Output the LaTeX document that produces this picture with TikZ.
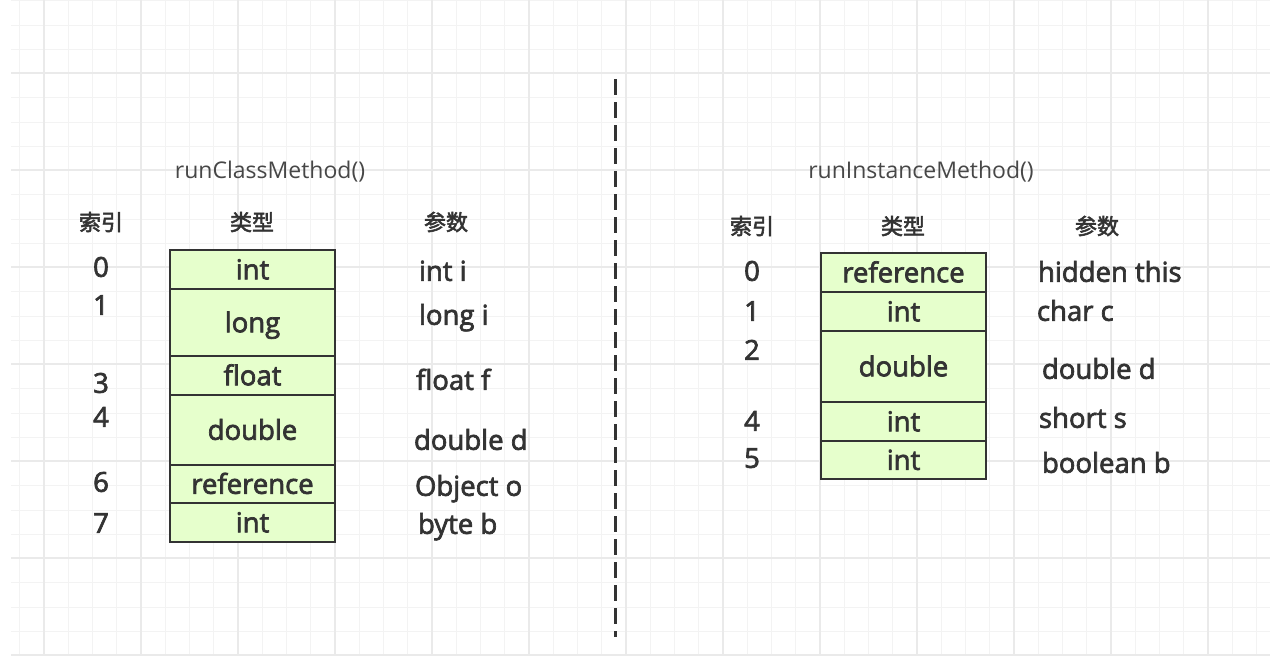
\documentclass[tikz,border=0pt]{standalone}
\usepackage{fontspec}
\setmainfont{Open Sans}
\newfontfamily\medium{Open Sans}[FakeBold=2.5]
\newfontfamily\cjk{Noto Sans CJK SC}[FakeBold=2.5]
\usetikzlibrary{positioning}
\definecolor{cellfill}{HTML}{E6FFCC}
\definecolor{ink}{HTML}{333333}
\definecolor{gridminor}{HTML}{F3F3F3}
\definecolor{gridmajor}{HTML}{EAEAEA}

\begin{document}
\begin{tikzpicture}[x=1pt,y=-1pt,
	every node/.style={text=ink,font=\medium\fontsize{27.5}{30}\selectfont,inner sep=0pt,outer sep=0pt},
	txt/.style={text height=19.6pt,text depth=0pt},
	param/.style={txt,anchor=west},
	head/.style={font=\cjk\fontsize{22}{26}\selectfont,text height=18.3pt,text depth=1.5pt},
	title/.style={font=\normalfont\fontsize{23}{26}\selectfont,text=ink!90,text height=16.5pt,text depth=0pt},
	slot/.style={draw=ink,fill=cellfill,line width=1.5pt,minimum width=165pt,txt},
	single/.style={slot,minimum height=39pt},
	double/.style={slot,minimum height=#1},
	minorline/.style={draw=gridminor,line width=1pt},
	majorline/.style={draw=gridmajor,line width=1.6pt},
	divider/.style={draw=ink,line width=3pt,dash pattern=on 16pt off 7pt}]

	\useasboundingbox (0,0) rectangle (1278,656);
	\fill[white] (0,0) rectangle (1278,656);

	% grid paper
	\foreach \k in {0,...,51}
		\draw[minorline] ({19.75+24.25*\k},0) -- ({19.75+24.25*\k},656);
	\foreach \k in {0,...,27}
		\draw[minorline] (11,{0.75+24.25*\k}) -- (1270,{0.75+24.25*\k});
	\foreach \k in {0,...,12}
		\draw[majorline] ({44+97*\k},0) -- ({44+97*\k},656);
	\foreach \k in {0,...,6}
		\draw[majorline] (11,{73+97*\k}) -- (1270,{73+97*\k});

	\coordinate (divtop) at (615,79);
	\coordinate (divbot) at (615,637);
	\draw[divider] (divtop) -- (divbot);

	% runClassMethod
	\node[title] (ltitle) at (270,170) {runClassMethod()};
	\node[head] (lidx)  at (101,222) {索引};
	\node[head] (ltype) at (252,222) {类型};
	\node[head] (lparm) at (446,222) {参数};

	\node[single] (l0) at (252.5,250) [anchor=north] {int};
	\node[double=67pt] (l1) [below=0pt of l0] {long};
	\node[single] (l3) [below=0pt of l1] {float};
	\node[double=70pt] (l4) [below=0pt of l3] {double};
	\node[single,minimum height=38pt] (l6) [below=0pt of l4] {reference};
	\node[single] (l7) [below=0pt of l6] {int};

	\foreach \n/\yy in {0/267,1/305,3/383,4/417,6/482,7/523}
		\node[txt] (li\n) at (101,\yy) {\n};

	\node[param] (lp0) at (419,271) {int i};
	\node[param] (lp1) at (419,315) {long i};
	\node[param] (lp3) at (416,380) {float f};
	\node[param] (lp4) at (414,440) {double d};
	\node[param] (lp6) at (415,486) {Object o};
	\node[param] (lp7) at (418,524) {byte b};

	% runInstanceMethod
	\node[title] (rtitle) at (921,170) {runInstanceMethod()};
	\node[head] (ridx)  at (752,226) {索引};
	\node[head] (rtype) at (903,226) {类型};
	\node[head] (rparm) at (1097,226) {参数};

	\node[single] (r0) at (903.5,253) [anchor=north] {reference};
	\node[single] (r1) [below=0pt of r0] {int};
	\node[double=71pt] (r2) [below=0pt of r1] {double};
	\node[single] (r4) [below=0pt of r2] {int};
	\node[single,minimum height=38pt] (r5) [below=0pt of r4] {int};

	\foreach \n/\yy in {0/271,1/311,2/350,4/421,5/458}
		\node[txt] (ri\n) at (752,\yy) {\n};

	\node[param] (rp0) at (1038,272) {hidden this};
	\node[param] (rp1) at (1037,311) {char c};
	\node[param] (rp2) at (1042,369) {double d};
	\node[param] (rp4) at (1039,418) {short s};
	\node[param] (rp5) at (1042,463) {boolean b};

\end{tikzpicture}
\end{document}
